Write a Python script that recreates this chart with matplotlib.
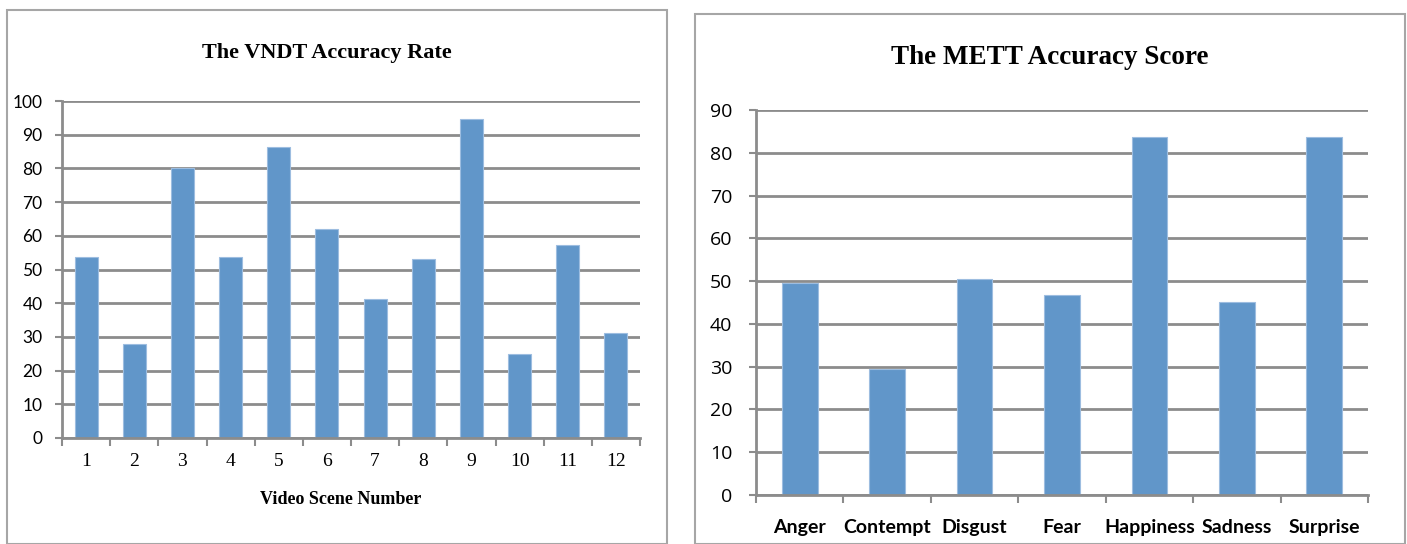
import numpy as np
import matplotlib.pyplot as plt
from matplotlib.patches import Rectangle

# VNDT scores per video scene
scenes = ['1', '2', '3', '4', '5', '6', '7', '8', '9', '10', '11', '12']
vndt_rate = [53.7, 27.8, 80.0, 53.7, 86.3, 62.1, 41.2, 53.0, 94.7, 25.0, 57.2, 31.3]

# METT scores per emotion
emotions = ['Anger', 'Contempt', 'Disgust', 'Fear', 'Happiness', 'Sadness', 'Surprise']
mett_score = [49.5, 29.4, 50.5, 46.7, 83.6, 45.1, 83.6]

BAR = '#6196c9'
EDGE = '#9dbde0'
GRID = '#8c8c8c'

W, H = 1407, 544
fig = plt.figure(figsize=(W / 100, H / 100), dpi=100)


def px_axes(x0, y0, x1, y1):
    # pixel box (top-left origin) -> figure axes
    return fig.add_axes([x0 / W, 1 - y1 / H, (x1 - x0) / W, (y1 - y0) / H])


def style(ax, n, ymax, step, ypad):
    ax.set_xlim(-0.5, n - 0.5)
    ax.set_ylim(0, ymax)
    ax.set_yticks(np.arange(0, ymax + 1, step))
    ax.yaxis.grid(True, color=GRID, linewidth=2)
    ax.set_axisbelow(True)
    for s in ['top', 'right']:
        ax.spines[s].set_visible(False)
    for s in ['left', 'bottom']:
        ax.spines[s].set_color(GRID)
        ax.spines[s].set_linewidth(2)
    # category boundary ticks, labels on the centres
    ax.set_xticks(np.arange(-0.5, n, 1.0))
    ax.set_xticklabels([])
    ax.tick_params(axis='x', which='major', length=6, width=1.5, color=GRID)
    ax.tick_params(axis='y', length=5, width=1.5, color=GRID, pad=ypad)


# border frames around each chart
fig.patches.append(Rectangle((7 / W, 0), 660 / W, 1 - 10 / H, transform=fig.transFigure,
                             fill=False, edgecolor='#a6a6a6', linewidth=1.5))
fig.patches.append(Rectangle((695 / W, 0), 710 / W, 1 - 14 / H, transform=fig.transFigure,
                             fill=False, edgecolor='#a6a6a6', linewidth=1.5))

# left chart
ax1 = px_axes(62, 101, 640, 438)
x1 = np.arange(len(scenes))
ax1.bar(x1, vndt_rate, width=0.48, color=BAR, edgecolor=EDGE, linewidth=0.8)
style(ax1, len(scenes), 100, 10, 9)
ax1.set_xticks(x1, minor=True)
ax1.set_xticklabels(scenes, minor=True, family='Liberation Serif', fontsize=14)
ax1.tick_params(axis='x', which='minor', length=0, pad=11)
for t in ax1.get_yticklabels():
    t.set_family('Lato')
    t.set_fontsize(12.5)
fig.text(327 / W, 1 - 53 / H, 'The VNDT Accuracy Rate', ha='center', va='center',
         family='Liberation Serif', fontweight='bold', fontsize=16)
fig.text(341 / W, 1 - 500 / H, 'Video Scene Number', ha='center', va='center',
         family='Liberation Serif', fontweight='bold', fontsize=13)

# right chart
ax2 = px_axes(756, 110, 1368, 495)
x2 = np.arange(len(emotions))
ax2.bar(x2, mett_score, width=0.41, color=BAR, edgecolor=EDGE, linewidth=0.8)
style(ax2, len(emotions), 90, 10, 12)
ax2.set_xticks(x2, minor=True)
ax2.set_xticklabels(emotions, minor=True, family='Lato', fontweight='bold', fontsize=14)
ax2.tick_params(axis='x', which='minor', length=0, pad=17)
for t in ax2.get_yticklabels():
    t.set_family('Open Sans')
    t.set_fontsize(14)
fig.text(1050 / W, 1 - 58 / H, 'The METT Accuracy Score', ha='center', va='center',
         family='Liberation Serif', fontweight='bold', fontsize=19.5)

fig.savefig('out.png', dpi=100)
